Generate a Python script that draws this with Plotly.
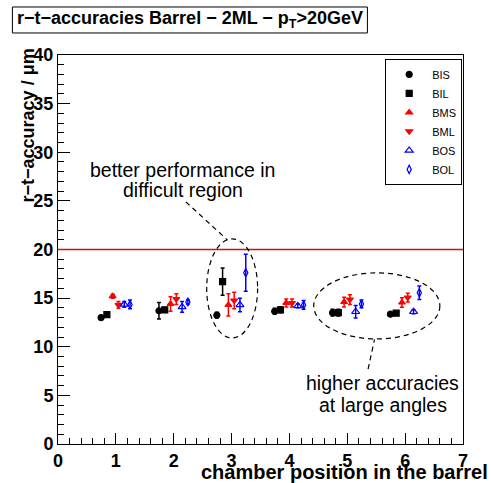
import plotly.graph_objects as go

# ---- data ----
positions = [1, 2, 3, 4, 5, 6]
series_names = ["BIS", "BIL", "BMS", "BML", "BOS", "BOL"]
offsets = [-0.255, -0.155, -0.055, 0.045, 0.145, 0.245]

bis_y = [13.0, 13.7, 13.25, 13.65, 13.5, 13.35]
bis_err = [0.15, 0.85, 0.3, 0.3, 0.35, 0.15]
bil_y = [13.3, 13.8, 16.7, 13.8, 13.5, 13.45]
bil_err = [0.15, 0.2, 1.4, 0.3, 0.35, 0.15]
bms_y = [15.2, 14.4, 14.3, 14.5, 14.6, 14.55]
bms_err = [0.2, 0.75, 1.15, 0.4, 0.5, 0.5]
bml_y = [14.3, 14.9, 14.75, 14.5, 14.85, 15.05]
bml_err = [0.35, 0.55, 0.85, 0.4, 0.5, 0.45]
bos_y = [14.35, 14.1, 14.3, 14.2, 13.6, 13.6]
bos_err = [0.3, 0.55, 0.7, 0.2, 0.65, 0.2]
bol_y = [14.35, 14.6, 17.6, 14.3, 14.4, 15.55]
bol_err = [0.45, 0.2, 1.9, 0.45, 0.4, 0.7]

threshold = 20

values = [bis_y, bil_y, bms_y, bml_y, bos_y, bol_y]
errors = [bis_err, bil_err, bms_err, bml_err, bos_err, bol_err]
colors = ["black", "black", "red", "red", "blue", "blue"]
symbols = ["circle", "square", "triangle-up", "triangle-down",
           "triangle-up-open", "diamond-tall-open"]
sizes = [6, 6, 6, 6, 7, 6]

FONT = "Liberation Sans, Arial, Helvetica, sans-serif"

fig = go.Figure()
for name, ys, es, c, s, sz, off in zip(series_names, values, errors, colors,
                                       symbols, sizes, offsets):
    fig.add_trace(go.Scatter(
        x=[p + off for p in positions], y=ys, mode="markers", name=name,
        marker=dict(color=c, symbol=s, size=sz, line=dict(color=c, width=1.2)),
        error_y=dict(type="data", array=es, visible=True, color=c,
                     thickness=1.5, width=2),
    ))

# reference line
fig.add_shape(type="line", xref="x", yref="y", x0=0, x1=7, y0=threshold,
              y1=threshold, line=dict(color="#d01010", width=1.3), layer="above")

# ellipses
dash = "5px,4px"
fig.add_shape(type="circle", xref="x", yref="y", x0=2.57, x1=3.45,
              y0=10.9, y1=21.1, line=dict(color="black", width=1.2, dash=dash))
fig.add_shape(type="circle", xref="x", yref="y", x0=4.42, x1=6.6,
              y0=10.8, y1=17.6, line=dict(color="black", width=1.2, dash=dash))
# connectors
fig.add_shape(type="line", xref="x", yref="y", x0=2.21, y0=24.9, x1=2.93,
              y1=20.97, line=dict(color="black", width=1.2, dash=dash))
fig.add_shape(type="line", xref="x", yref="y", x0=5.36, y0=7.7, x1=5.47,
              y1=10.75, line=dict(color="black", width=1.2, dash=dash))

ann_font = dict(family=FONT, size=19.5, color="black")
fig.add_annotation(x=2.16, y=28.2, xref="x", yref="y", text="better performance in",
                   showarrow=False, font=ann_font)
fig.add_annotation(x=2.16, y=26.1, xref="x", yref="y", text="difficult region",
                   showarrow=False, font=ann_font)
fig.add_annotation(x=5.61, y=6.3, xref="x", yref="y", text="higher accuracies",
                   showarrow=False, font=ann_font)
fig.add_annotation(x=5.61, y=4.0, xref="x", yref="y", text="at large angles",
                   showarrow=False, font=ann_font)

# title box
fig.add_shape(type="rect", xref="paper", yref="paper", x0=-0.1126, x1=0.764,
              y0=1.0566, y1=1.1234, line=dict(color="black", width=1),
              fillcolor="white")
fig.add_annotation(x=(-0.1126 + 0.764) / 2, y=1.09, xref="paper", yref="paper",
                   text="<b>r\u2212t\u2212accuracies Barrel \u2212 2ML \u2212 p<sub>T</sub>>20GeV</b>",
                   showarrow=False, font=dict(family=FONT, size=18, color="black"),
                   xanchor="center", yanchor="middle")

# axis titles
fig.add_annotation(x=1.066, y=-0.071, xref="paper", yref="paper",
                   text="<b>chamber position in the barrel</b>", showarrow=False,
                   xanchor="right", yanchor="middle",
                   font=dict(family=FONT, size=20, color="black"))
fig.add_annotation(x=-0.075, y=1.021, xref="paper", yref="paper",
                   text="<b>r\u2212t\u2212accuracy / \u03bcm</b>", showarrow=False,
                   textangle=-90, xanchor="center", yanchor="top",
                   font=dict(family=FONT, size=18, color="black"))

tickfont = dict(family=FONT, size=18, color="black", weight="bold")
fig.update_xaxes(range=[0, 7], dtick=1, tick0=0, ticks="inside", ticklen=11,
                 tickcolor="black", showline=True, linecolor="black",
                 linewidth=1, mirror=True, showgrid=False, zeroline=False,
                 tickfont=tickfont, automargin=False,
                 minor=dict(dtick=0.2, ticks="inside", ticklen=6,
                            tickcolor="black", showgrid=False))
fig.update_yaxes(range=[0, 40], dtick=5, tick0=0, ticks="inside", ticklen=12,
                 tickcolor="black", showline=True, linecolor="black",
                 linewidth=1, mirror=True, showgrid=False, zeroline=False,
                 tickfont=tickfont, automargin=False,
                 minor=dict(dtick=1, ticks="inside", ticklen=6,
                            tickcolor="black", showgrid=False))

fig.update_layout(
    width=491, height=483,
    margin=dict(l=58, r=28, t=55, b=39, autoexpand=False),
    plot_bgcolor="white", paper_bgcolor="white",
    showlegend=True,
    legend=dict(x=0.998, y=0.99, xanchor="right", yanchor="top",
                bgcolor="white", bordercolor="black", borderwidth=1,
                font=dict(family=FONT, size=11, color="black"),
                tracegroupgap=0, itemwidth=36),
)

fig.write_html("out.html", config={"displayModeBar": False},
               post_script="document.body.style.margin='0';document.body.style.padding='0';")
